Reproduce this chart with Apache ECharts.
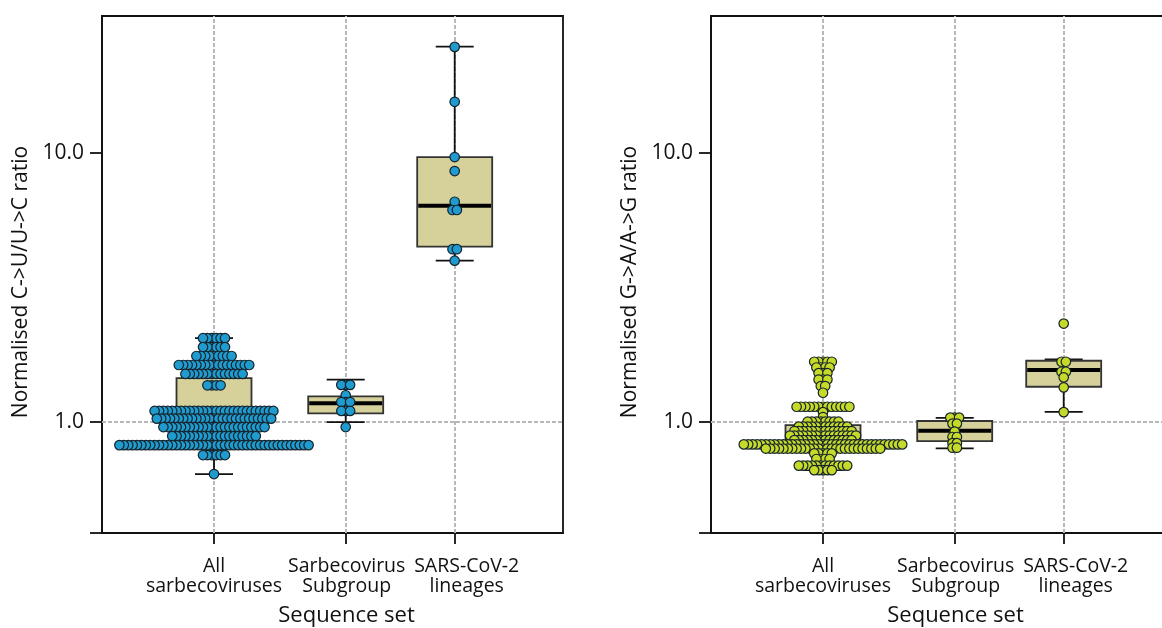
<!DOCTYPE html>
<html>
<head>
<meta charset="utf-8">
<script src="https://cdn.jsdelivr.net/npm/echarts@6/dist/echarts.min.js"></script>
<style>
  html, body { margin: 0; padding: 0; background: #ffffff; }
  #chart { width: 1162px; height: 628px; }
</style>
</head>
<body>
<div id="chart"></div>
<script>
// ---- Data -------------------------------------------------------------
const categories = ['All\nsarbecoviruses', 'Sarbecovirus\nSubgroup', 'SARS-CoV-2\nlineages'];
const xAxisTitle = 'Sequence set';
const cuTitle = 'Normalised C->U/U->C ratio';
const gaTitle = 'Normalised G->A/A->G ratio';
const yTickValues = [1, 10];

// Dot-plot bins: bin value and number of sequences in that bin
const cuAllLevels = [2.05, 1.90, 1.76, 1.63, 1.51, 1.37, 1.10, 1.03, 0.958, 0.887, 0.821, 0.754, 0.641];
const cuAllCounts = [6, 6, 9, 17, 14, 4, 28, 27, 24, 20, 44, 6, 1];
const cuSubLevels = [1.375, 1.258, 1.187, 1.100, 0.958];
const cuSubCounts = [3, 1, 3, 3, 1];
const cuLinLevels = [24.8, 15.5, 9.66, 8.57, 6.59, 6.14, 4.39, 3.98];
const cuLinCounts = [1, 1, 1, 1, 1, 2, 2, 1];

const gaAllLevels = [1.676, 1.595, 1.521, 1.439, 1.361, 1.285, 1.140, 1.089, 1.044, 1.003, 0.962, 0.926, 0.891, 0.857, 0.826, 0.797, 0.765, 0.729, 0.689, 0.663];
const gaAllCounts = [5, 4, 3, 3, 2, 1, 13, 1, 1, 8, 12, 14, 16, 14, 37, 27, 5, 4, 12, 5];
const gaSubLevels = [1.039, 0.987, 0.922, 0.880, 0.835, 0.803];
const gaSubCounts = [3, 2, 1, 2, 2, 2];
const gaLinLevels = [2.323, 1.676, 1.538, 1.466, 1.346, 1.089];
const gaLinCounts = [1, 2, 2, 1, 1, 1];

// Box summaries: [min, Q1, median, Q3, max]
const cuBoxAll = [0.641, 0.89, 1.03, 1.457, 2.05];
const cuBoxSub = [1.0, 1.078, 1.175, 1.245, 1.439];
const cuBoxLin = [3.98, 4.485, 6.37, 9.66, 24.84];
const gaBoxAll = [0.663, 0.845, 0.89, 0.975, 1.14];
const gaBoxSub = [0.798, 0.850, 0.928, 1.009, 1.037];
const gaBoxLin = [1.092, 1.353, 1.561, 1.690, 1.708];

// ---- Layout & style ---------------------------------------------------
const Y_MIN = 0.387, Y_MAX = 32.3;
const X_SPAN = 4.61;
const GROUP_X = [1.12, 2.437, 3.527];      // group centres on the x scale
const LABEL_X = [1.12, 2.447, 3.647];      // category label anchors (last one nudged right)
const FONT = '"Open Sans", "DejaVu Sans", sans-serif';
const INK = '#111111';
const BOX_FILL = '#d6d19b';
const BOX_W = 75, CAP_W = 38;
const DOT_STEP = 4.4;

// Symmetric dot-plot layout: dots of one bin are spread horizontally,
// the central ones first so the outer ones overlap them.
function swarm(levels, counts, gx) {
  const pts = [];
  levels.forEach((v, i) => {
    const n = counts[i];
    const row = [];
    for (let k = 0; k < n; k++) row.push((k - (n - 1) / 2) * DOT_STEP);
    row.sort((a, b) => Math.abs(a) - Math.abs(b));
    row.forEach(dx => pts.push({ value: [gx, v], symbolOffset: [dx, 0] }));
  });
  return pts;
}

function renderBox(params, api) {
  const x = api.value(0);
  const lo = api.coord([x, api.value(1)]);
  const q1 = api.coord([x, api.value(2)]);
  const md = api.coord([x, api.value(3)]);
  const q3 = api.coord([x, api.value(4)]);
  const hi = api.coord([x, api.value(5)]);
  const cx = lo[0];
  const h = BOX_W / 2, c = CAP_W / 2;
  const wl = { stroke: '#111', lineWidth: 1.8 };
  return {
    type: 'group',
    children: [
      { type: 'line', shape: { x1: cx, y1: hi[1], x2: cx, y2: q3[1] }, style: wl },
      { type: 'line', shape: { x1: cx, y1: q1[1], x2: cx, y2: lo[1] }, style: wl },
      { type: 'line', shape: { x1: cx - c, y1: hi[1], x2: cx + c, y2: hi[1] }, style: wl },
      { type: 'line', shape: { x1: cx - c, y1: lo[1], x2: cx + c, y2: lo[1] }, style: wl },
      { type: 'rect', shape: { x: cx - h, y: q3[1], width: BOX_W, height: q1[1] - q3[1] },
        style: { fill: BOX_FILL, stroke: '#333', lineWidth: 1.8 } },
      { type: 'line', shape: { x1: cx - h + 1, y1: md[1], x2: cx + h - 1, y2: md[1] },
        style: { stroke: '#000', lineWidth: 4 } }
    ]
  };
}

function catLabel(v) {
  const i = LABEL_X.findIndex(g => Math.abs(g - v) < 1e-6);
  return i < 0 ? '' : categories[i];
}

function panelAxes(k, title) {
  const xAxis = {
    type: 'value', gridIndex: k, min: 0, max: X_SPAN,
    axisLine: { show: true, onZero: false, lineStyle: { color: INK, width: 1.8 } },
    axisTick: { show: true, customValues: GROUP_X, length: 11, lineStyle: { color: INK, width: 1.8 } },
    axisLabel: {
      customValues: LABEL_X, formatter: catLabel, margin: 23, hideOverlap: false,
      fontFamily: FONT, fontSize: 19.5, lineHeight: 20, color: INK
    },
    splitLine: { show: false },
    name: xAxisTitle, nameLocation: 'middle', nameGap: 72,
    nameTextStyle: { fontFamily: FONT, fontSize: 22, color: INK, padding: [0, 0, 0, 28] }
  };
  const yAxis = {
    type: 'log', logBase: 10, gridIndex: k, min: Y_MIN, max: Y_MAX,
    axisLine: { show: true, lineStyle: { color: INK, width: 1.8 } },
    axisTick: { show: true, customValues: [Y_MIN, 1, 10], length: 12, lineStyle: { color: INK, width: 1.8 } },
    axisLabel: {
      customValues: yTickValues, formatter: v => Number(v).toFixed(1), margin: 18,
      fontFamily: FONT, fontSize: 21, color: INK
    },
    splitLine: { show: false },
    name: title, nameLocation: 'middle', nameGap: 70,
    nameTextStyle: { fontFamily: FONT, fontSize: 21, color: INK, padding: [0, 15, 0, 0] }
  };
  return { xAxis, yAxis };
}

function panelSeries(k, boxes, dots, color) {
  return [
    {
      type: 'scatter', xAxisIndex: k, yAxisIndex: k, data: [], z: 1, silent: true,
      markLine: {
        z: 1, silent: true, symbol: 'none', label: { show: false },
        lineStyle: { color: '#b8b8b8', type: [4, 2], width: 2 },
        data: GROUP_X.map(v => ({ xAxis: v })).concat([{ yAxis: 1 }])
      }
    },
    {
      type: 'custom', xAxisIndex: k, yAxisIndex: k, z: 2, silent: true,
      renderItem: renderBox,
      encode: { x: 0, y: [1, 2, 3, 4, 5] },
      data: boxes.map((b, i) => [GROUP_X[i]].concat(b))
    },
    {
      type: 'scatter', xAxisIndex: k, yAxisIndex: k, z: 3, silent: true,
      symbol: 'circle', symbolSize: 9.5,
      itemStyle: { color: color, borderColor: '#15232b', borderWidth: 1.2, opacity: 1 },
      data: [].concat(
        swarm(dots[0][0], dots[0][1], GROUP_X[0]),
        swarm(dots[1][0], dots[1][1], GROUP_X[1]),
        swarm(dots[2][0], dots[2][1], GROUP_X[2])
      )
    }
  ];
}

const left = panelAxes(0, cuTitle);
const right = panelAxes(1, gaTitle);

const gridBase = {
  top: 16, bottom: 95, show: true, borderColor: INK, borderWidth: 1.8,
  backgroundColor: 'transparent', containLabel: false, outerBoundsMode: 'none'
};

const option = {
  backgroundColor: '#ffffff',
  animation: false,
  grid: [
    Object.assign({ left: 102, right: 599 }, gridBase),
    Object.assign({ left: 711, right: -10 }, gridBase)
  ],
  xAxis: [left.xAxis, right.xAxis],
  yAxis: [left.yAxis, right.yAxis],
  series: [].concat(
    panelSeries(0, [cuBoxAll, cuBoxSub, cuBoxLin],
      [[cuAllLevels, cuAllCounts], [cuSubLevels, cuSubCounts], [cuLinLevels, cuLinCounts]], '#1f9bcf'),
    panelSeries(1, [gaBoxAll, gaBoxSub, gaBoxLin],
      [[gaAllLevels, gaAllCounts], [gaSubLevels, gaSubCounts], [gaLinLevels, gaLinCounts]], '#c6da2a')
  )
};

const chart = echarts.init(document.getElementById('chart'), null, { renderer: 'canvas' });
chart.setOption(option);
</script>
</body>
</html>
